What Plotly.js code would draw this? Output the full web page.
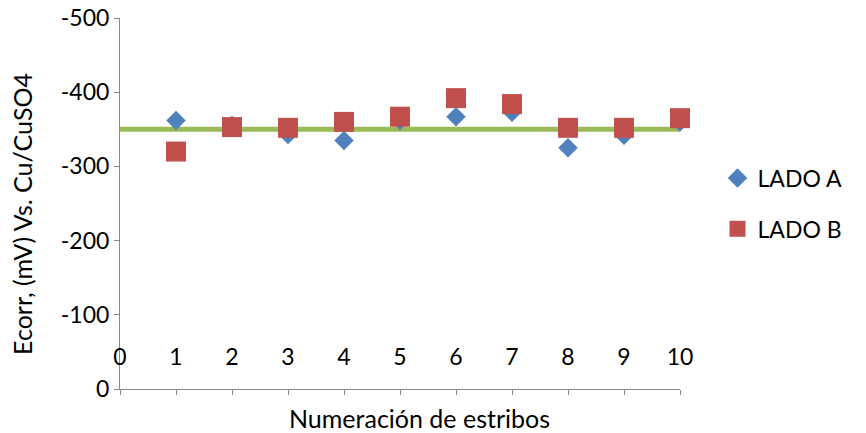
<!DOCTYPE html>
<html>
<head>
<meta charset="utf-8">
<script src="https://cdn.plot.ly/plotly-3.0.1.min.js"></script>
<style>
  html, body { margin: 0; padding: 0; background: #fff; }
  #chart { width: 866px; height: 433px; }
</style>
</head>
<body>
<div id="chart"></div>
<script>
// Stirrup numbering and corrosion potentials (mV vs. Cu/CuSO4)
const estribos = [1, 2, 3, 4, 5, 6, 7, 8, 9, 10];
const ladoA = [-362, -355, -343, -335, -362, -367, -373, -325, -342, -360];
const ladoB = [-320, -353, -352, -360, -367, -392, -384, -352, -352, -365];

// Reference potential line
const refX = [0, 10];
const refY = [-350, -350];

// Axis ticks and titles
const yTickVals = [0, -100, -200, -300, -400, -500];
const yTickText = ['0', '-100', '-200', '-300', '-400', '-500'];
const xTickVals = [0, 1, 2, 3, 4, 5, 6, 7, 8, 9, 10];
const xTickText = ['0', '1', '2', '3', '4', '5', '6', '7', '8', '9', '10'];
const xTitle = 'Numeración de estribos';
const yTitle = 'Ecorr, (mV) Vs. Cu/CuSO4';

const FONT = 'Lato, "Open Sans", sans-serif';
const FS = 23;
const TITLE_FS = 25;
const AXIS_GRAY = '#868686';

const traces = [
  {
    x: refX, y: refY, mode: 'lines', showlegend: false, hoverinfo: 'skip',
    line: { color: '#9BBB59', width: 5 }, cliponaxis: false
  },
  {
    x: estribos, y: ladoA, mode: 'markers', name: 'LADO A', legendgroup: 'a',
    marker: { symbol: 'diamond', size: 15, color: '#4F81BD' }, cliponaxis: false
  },
  {
    x: estribos, y: ladoB, mode: 'markers', name: 'LADO B', legendgroup: 'b',
    marker: { symbol: 'square', size: 20, color: '#C0504D' }, cliponaxis: false
  },
  // invisible carrier for the upper tick-label row of the stirrup axis
  {
    x: estribos, y: ladoA, xaxis: 'x2', mode: 'markers', showlegend: false,
    hoverinfo: 'skip', marker: { opacity: 0 }
  }
];

const layout = {
  width: 866, height: 433,
  margin: { l: 120, r: 186, t: 18, b: 44 },
  paper_bgcolor: '#fff', plot_bgcolor: '#fff',
  font: { family: FONT, size: FS, color: '#000' },
  showlegend: true,
  legend: {
    x: 1.067, y: 0.5, xanchor: 'left', yanchor: 'middle',
    font: { family: FONT, size: FS, color: '#000' },
    traceorder: 'grouped', tracegroupgap: 18,
    itemwidth: 30
  },
  xaxis: {
    range: [0, 10], showgrid: false, zeroline: false,
    showline: true, linecolor: AXIS_GRAY, linewidth: 1,
    ticks: 'outside', ticklen: 5, tickcolor: AXIS_GRAY,
    tickvals: xTickVals, showticklabels: false,
    automargin: false, fixedrange: true
  },
  xaxis2: {
    overlaying: 'x', matches: 'x', anchor: 'free', position: 0.13, side: 'bottom',
    showgrid: false, zeroline: false, showline: false, ticks: '',
    tickvals: xTickVals, ticktext: xTickText,
    tickfont: { family: FONT, size: FS, color: '#000' },
    automargin: false, fixedrange: true
  },
  yaxis: {
    range: [0, -500], showgrid: false, zeroline: false,
    showline: true, linecolor: AXIS_GRAY, linewidth: 1,
    ticks: 'outside', ticklen: 5, tickcolor: AXIS_GRAY,
    tickvals: yTickVals, ticktext: yTickText,
    tickfont: { family: FONT, size: FS, color: '#000' },
    automargin: false, fixedrange: true
  },
  // axis titles placed as annotations, centred on the chart area
  annotations: [
    {
      text: xTitle, xref: 'paper', yref: 'paper', x: 0.534, y: -0.078,
      xanchor: 'center', yanchor: 'middle', showarrow: false,
      font: { family: FONT, size: TITLE_FS, color: '#000' }
    },
    {
      text: yTitle, xref: 'paper', yref: 'paper', x: -0.175, y: 0.472,
      xanchor: 'center', yanchor: 'middle', showarrow: false, textangle: -90,
      font: { family: FONT, size: TITLE_FS, color: '#000' }
    }
  ]
};

Plotly.newPlot('chart', traces, layout, { displayModeBar: false, staticPlot: true });
</script>
</body>
</html>
